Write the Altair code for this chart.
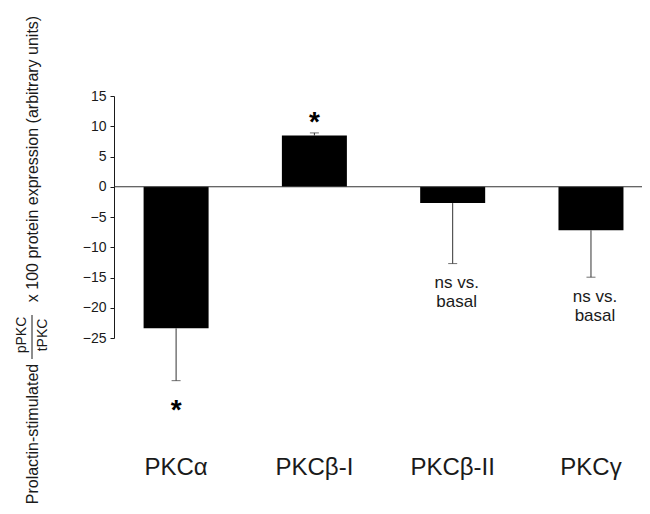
import altair as alt
import pandas as pd

# ---- data ----
categories = ["PKCα", "PKCβ-I", "PKCβ-II", "PKCγ"]
values = [-23.4, 8.46, -2.7, -7.2]          # bar heights
err_ends = [-32.05, 8.9, -12.7, -14.95]     # end of error bars
star_cats = ["PKCα", "PKCβ-I"]
star_y = [-38.4, 9.2]                       # asterisk baselines
ns_cats = ["PKCβ-II", "PKCγ"]
ns_y = [-16.8, -19.1]                       # "ns vs. basal" baselines
ns_label = "ns vs.\nbasal"
y_ticks = [15, 10, 5, 0, -5, -10, -15, -20, -25]

FONT = "Liberation Sans"
INK = "#1a1a1a"

df = pd.DataFrame({"cat": categories, "value": values, "err": err_ends})
stars = pd.DataFrame({"cat": star_cats, "value": star_y, "t": ["*"] * len(star_cats)})
ns = pd.DataFrame({"cat": ns_cats, "value": ns_y, "t": [ns_label] * len(ns_cats)})
zero = pd.DataFrame({"value": [0]})

x_scale = alt.Scale(domain=categories, paddingInner=0.53, paddingOuter=0.174, align=0.615)
y_scale = alt.Scale(domain=[-25, 15], nice=False, zero=False)

x_axis = alt.Axis(title=None, domain=False, ticks=False, labelAngle=0, labelFontSize=24,
                  labelFont=FONT, labelColor=INK, labelPadding=117)
y_axis = alt.Axis(title=None, values=y_ticks, grid=False, domainColor=INK, tickColor=INK,
                  tickSize=4, labelFontSize=14, labelFont=FONT, labelColor=INK, labelPadding=4)


def X():
    return alt.X("cat:N", scale=x_scale, sort=categories, axis=x_axis)


def Y(field):
    return alt.Y(f"{field}:Q", scale=y_scale, axis=y_axis)


bars = alt.Chart(df).mark_bar(color="black").encode(x=X(), y=alt.Y("value:Q", scale=y_scale, axis=y_axis, stack=None))
err_rule = alt.Chart(df).mark_rule(color="#333333", strokeWidth=1).encode(x=X(), y=Y("value"), y2="err:Q")
err_cap = alt.Chart(df).mark_tick(color="#333333", thickness=1, size=9).encode(x=X(), y=Y("err"))
zero_line = alt.Chart(zero).mark_rule(color="#333333", strokeWidth=1).encode(y=Y("value"))
star_text = alt.Chart(stars).mark_text(font=FONT, fontSize=28, fontWeight="bold", color="black",
                                       baseline="alphabetic", align="center").encode(x=X(), y=Y("value"), text="t:N")
ns_text = alt.Chart(ns).mark_text(font=FONT, fontSize=17, color=INK, baseline="alphabetic", align="center",
                                  lineBreak="\n", lineHeight=19, dx=4).encode(x=X(), y=Y("value"), text="t:N")

# ---- y-axis title built from pieces (with the pPKC / tPKC fraction) ----
title_df = pd.DataFrame({"a": [0]})


def title_piece(txt, x, y, size=16):
    return alt.Chart(title_df).mark_text(text=txt, font=FONT, fontSize=size, color=INK, angle=270,
                                         align="center", baseline="middle").encode(
        x=alt.value(x), y=alt.value(y))


t_main = title_piece("x 100 protein expression (arbitrary units)", -81, 63)
t_pre = title_piece("Prolactin-stimulated", -81, 338)
t_num = title_piece("pPKC", -92, 239, size=14)
t_den = title_piece("tPKC", -71, 239, size=14)
t_bar = alt.Chart(title_df).mark_rule(color=INK, strokeWidth=1).encode(
    x=alt.value(-82), y=alt.value(219), y2=alt.value(263))

chart = alt.layer(
    bars, err_rule, err_cap, zero_line, star_text, ns_text,
    t_main, t_pre, t_num, t_den, t_bar
).properties(
    width=528, height=242,
    autosize=alt.AutoSizeParams(type="none"),
    padding={"left": 106, "top": 88, "right": 0, "bottom": 168},
).configure_view(stroke=None)

chart.save("out.html", embed_options={"renderer": "svg", "actions": False})
